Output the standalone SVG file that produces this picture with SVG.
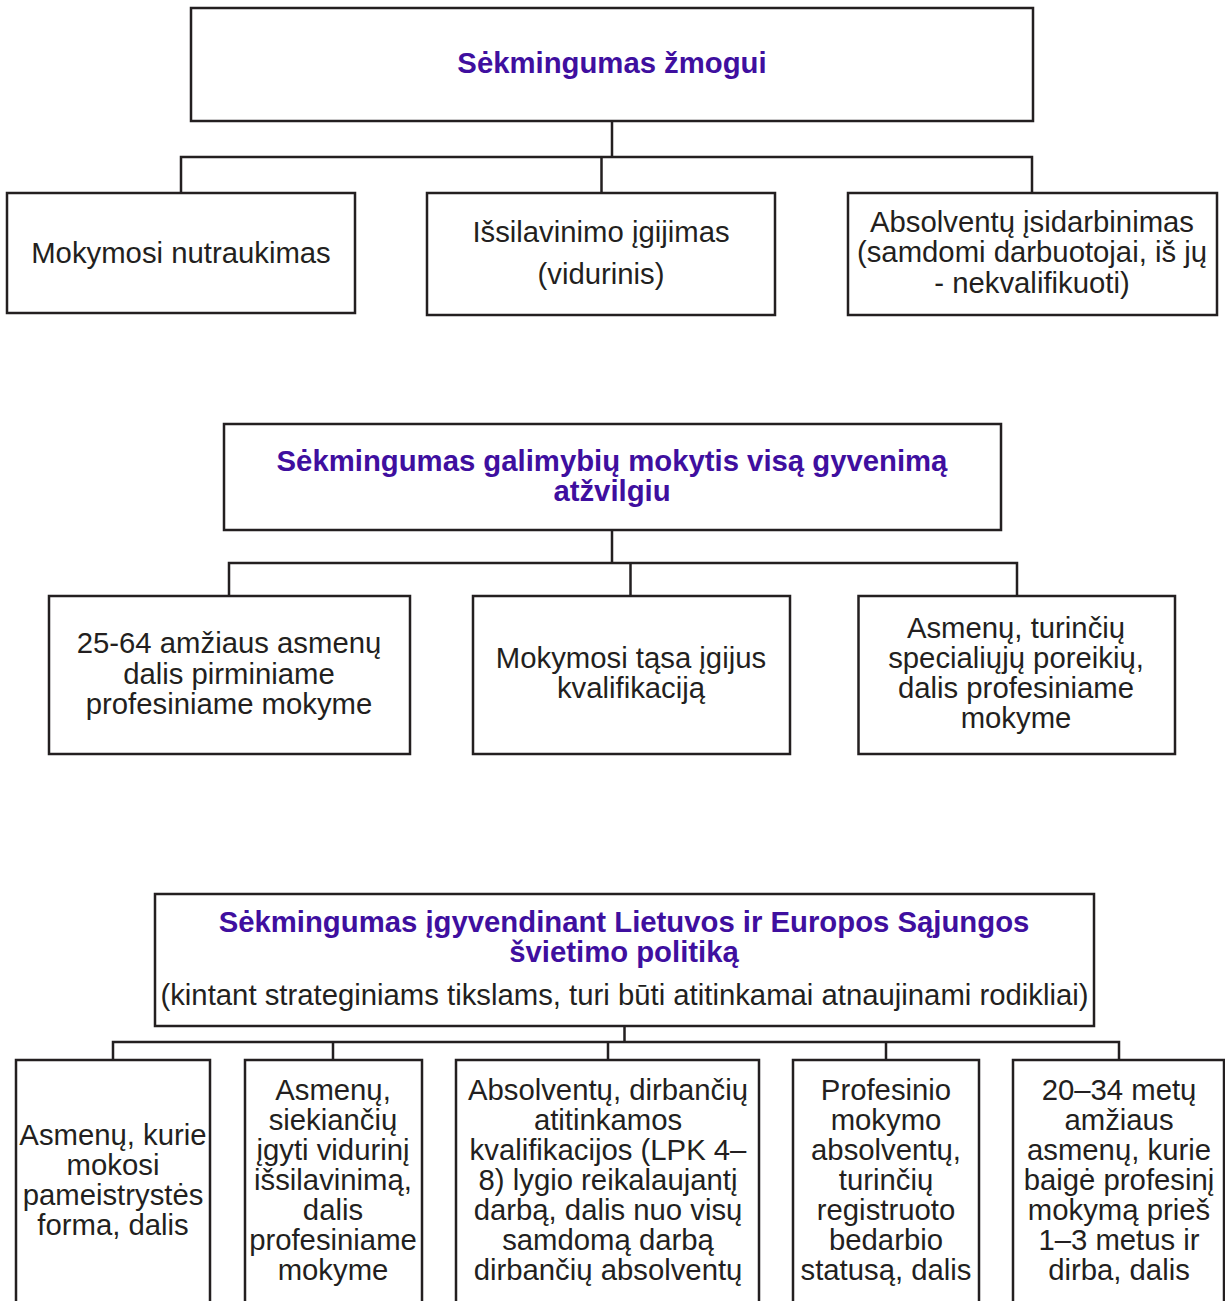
<svg xmlns="http://www.w3.org/2000/svg" width="1225" height="1301" viewBox="0 0 1225 1301">
<style>
rect.box{fill:#fff;stroke:#231f20;stroke-width:2.5}
.conn path{fill:none;stroke:#231f20;stroke-width:2.5}
text{font-family:"Liberation Sans",Arial,Helvetica,sans-serif;font-size:29.3px;fill:#231f20;text-anchor:middle}
text.t{font-weight:bold;fill:#3f0f9f}
</style>
<rect width="1225" height="1301" fill="#fff"/>
<g class="conn">
<path d="M612 121V157M181 193V157H1032V193M601.5 157V193"/>
<path d="M612 530V563M229 596V563H1017V596M630.5 563V596"/>
<path d="M624.5 1026V1042M113 1060V1042H1119V1060M333 1042V1060M608 1042V1060M886 1042V1060"/>
</g>
<g id="n1"><rect class="box" x="191" y="8" width="842" height="113"/><text class="t" x="612" y="73" font-size="27">Sėkmingumas žmogui</text></g>
<g id="n1a"><rect class="box" x="7" y="193" width="348" height="120"/><text x="181" y="263">Mokymosi nutraukimas</text></g>
<g id="n1b"><rect class="box" x="427" y="193" width="348" height="122"/><text x="601" y="242">Išsilavinimo įgijimas</text><text x="601" y="284">(vidurinis)</text></g>
<g id="n1c"><rect class="box" x="848" y="193" width="369" height="122"/><text x="1032" y="232">Absolventų įsidarbinimas</text><text x="1032" y="262">(samdomi darbuotojai, iš jų</text><text x="1032" y="293">- nekvalifikuoti)</text></g>
<g id="n2"><rect class="box" x="224" y="424" width="777" height="106"/><text class="t" x="612" y="470.5">Sėkmingumas galimybių mokytis visą gyvenimą</text><text class="t" x="612" y="501">atžvilgiu</text></g>
<g id="n2a"><rect class="box" x="49" y="596" width="361" height="158"/><text x="229" y="653">25-64 amžiaus asmenų</text><text x="229" y="684">dalis pirminiame</text><text x="229" y="714">profesiniame mokyme</text></g>
<g id="n2b"><rect class="box" x="473" y="596" width="317" height="158"/><text x="631" y="668">Mokymosi tąsa įgijus</text><text x="631" y="698">kvalifikaciją</text></g>
<g id="n2c"><rect class="box" x="858.5" y="596" width="316.5" height="158"/><text x="1016" y="638">Asmenų, turinčių</text><text x="1016" y="668">specialiųjų poreikių,</text><text x="1016" y="698">dalis profesiniame</text><text x="1016" y="728">mokyme</text></g>
<g id="n3"><rect class="box" x="155" y="894" width="939" height="132"/><text class="t" x="624" y="931.5">Sėkmingumas įgyvendinant Lietuvos ir Europos Sąjungos</text><text class="t" x="624" y="962">švietimo politiką</text><text x="624.5" y="1005">(kintant strateginiams tikslams, turi būti atitinkamai atnaujinami rodikliai)</text></g>
<g id="n3a"><rect class="box" x="16" y="1060" width="194" height="260"/><text x="113" y="1145">Asmenų, kurie</text><text x="113" y="1175">mokosi</text><text x="113" y="1205">pameistrystės</text><text x="113" y="1235">forma, dalis</text></g>
<g id="n3b"><rect class="box" x="245" y="1060" width="177" height="260"/><text x="333" y="1100">Asmenų,</text><text x="333" y="1130">siekiančių</text><text x="333" y="1160">įgyti vidurinį</text><text x="333" y="1190">išsilavinimą,</text><text x="333" y="1220">dalis</text><text x="333" y="1250">profesiniame</text><text x="333" y="1280">mokyme</text></g>
<g id="n3c"><rect class="box" x="456" y="1060" width="303" height="260"/><text x="608" y="1100">Absolventų, dirbančių</text><text x="608" y="1130">atitinkamos</text><text x="608" y="1160">kvalifikacijos (LPK 4–</text><text x="608" y="1190">8) lygio reikalaujantį</text><text x="608" y="1220">darbą, dalis nuo visų</text><text x="608" y="1250">samdomą darbą</text><text x="608" y="1280">dirbančių absolventų</text></g>
<g id="n3d"><rect class="box" x="793" y="1060" width="186" height="260"/><text x="886" y="1100">Profesinio</text><text x="886" y="1130">mokymo</text><text x="886" y="1160">absolventų,</text><text x="886" y="1190">turinčių</text><text x="886" y="1220">registruoto</text><text x="886" y="1250">bedarbio</text><text x="886" y="1280">statusą, dalis</text></g>
<g id="n3e"><rect class="box" x="1013" y="1060" width="211" height="260"/><text x="1119" y="1100">20–34 metų</text><text x="1119" y="1130">amžiaus</text><text x="1119" y="1160">asmenų, kurie</text><text x="1119" y="1190">baigė profesinį</text><text x="1119" y="1220">mokymą prieš</text><text x="1119" y="1250">1–3 metus ir</text><text x="1119" y="1280">dirba, dalis</text></g>
</svg>
